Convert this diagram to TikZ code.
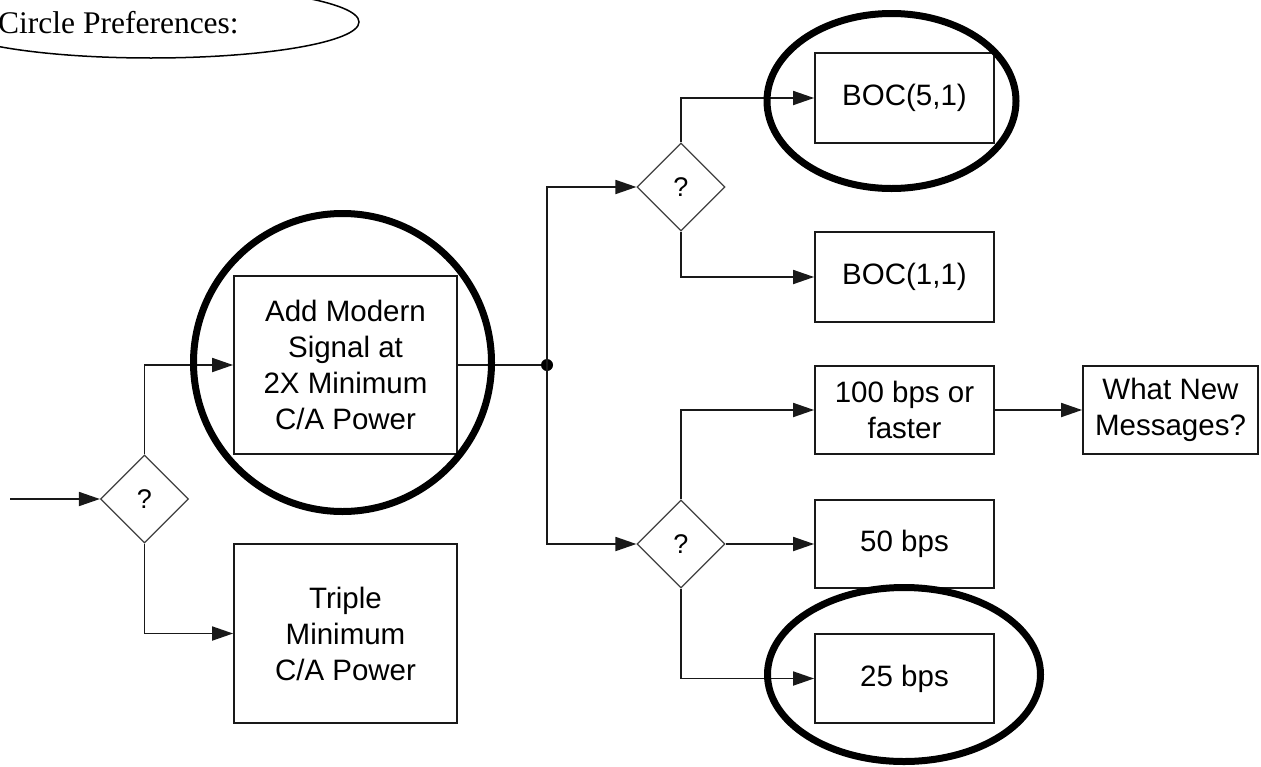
\documentclass[tikz,border=0pt]{standalone}
\usepackage{fontspec}
\setmainfont{Liberation Sans}
\newfontfamily\serifcap{Liberation Serif}
\usetikzlibrary{shapes.geometric,arrows.meta}
\begin{document}
\begin{tikzpicture}[x=1pt,y=-1pt,
  every node/.style={font=\fontsize{29.5}{36}\selectfont},
  box/.style={draw=black!90,line width=1.8pt,rectangle,inner sep=0pt,align=center},
  dec/.style={draw=black!75,line width=1.2pt,diamond,aspect=1,minimum width=88pt,minimum height=88pt,inner sep=0pt,font=\fontsize{27}{30}\selectfont},
  conn/.style={draw=black!90,line width=1.8pt},
  arr/.style={conn,-{Triangle[length=21pt,width=14pt]}},
  hl/.style={draw=black,line width=7pt}
]
\useasboundingbox (0,0) rectangle (1261,766);
\fill[white] (0,0) rectangle (1261,766);

% title ellipse
\draw[line width=1.5pt] (151,22) ellipse [x radius=208, y radius=36];
\node[anchor=base west,inner sep=0pt,font=\serifcap\fontsize{31.5}{34}\selectfont] (title) at (-2,33) {Circle Preferences:};

% boxes
\node[box,minimum width=223pt,minimum height=178pt] (addm) at (345.5,365) {Add Modern\\Signal at\\2X Minimum\\C/A Power};
\node[box,minimum width=223pt,minimum height=179pt] (triple) at (345.5,633.5) {Triple\\Minimum\\C/A Power};
\node[box,minimum width=179pt,minimum height=90pt] (boc5) at (904.5,98) {BOC(5,1)};
\node[box,minimum width=179pt,minimum height=90pt] (boc1) at (904.5,277) {BOC(1,1)};
\node[box,minimum width=179pt,minimum height=88pt] (b100) at (904.5,410) {100 bps or\\faster};
\node[box,minimum width=175pt,minimum height=88pt] (msg) at (1170.5,410) {What New\\Messages?};
\node[box,minimum width=179pt,minimum height=88pt] (b50) at (904.5,544) {50 bps};
\node[box,minimum width=179pt,minimum height=89pt] (b25) at (904.5,678.5) {25 bps};

% decisions
\node[dec] (d1) at (144.5,499) {?};
\node[dec] (d2) at (681,187) {?};
\node[dec] (d3) at (681,544) {?};

% connectors
\coordinate (in) at (10,499);
\coordinate (j) at (547,365);
\draw[arr] (in) -- (d1.west);
\draw[arr] (d1.north) |- (addm.west);
\draw[arr] (d1.south) |- (triple.west);
\draw[conn] (addm.east) -- (j);
\fill[black] (j) circle [radius=6];
\draw[arr] (j) |- (d2.west);
\draw[arr] (j) |- (d3.west);
\draw[arr] (d2.north) |- (boc5.west);
\draw[arr] (d2.south) |- (boc1.west);
\draw[arr] (d3.north) |- (b100.west);
\draw[arr] (d3.east) -- (b50.west);
\draw[arr] (d3.south) |- (b25.west);
\draw[arr] (b100.east) -- (msg.west);

% highlight ellipses
\draw[hl] (342.5,362.5) ellipse [x radius=149, y radius=149];
\draw[hl] (891.5,101) ellipse [x radius=124.5, y radius=87.5];
\draw[hl] (904,674.5) ellipse [x radius=136.5, y radius=87];
\end{tikzpicture}
\end{document}
